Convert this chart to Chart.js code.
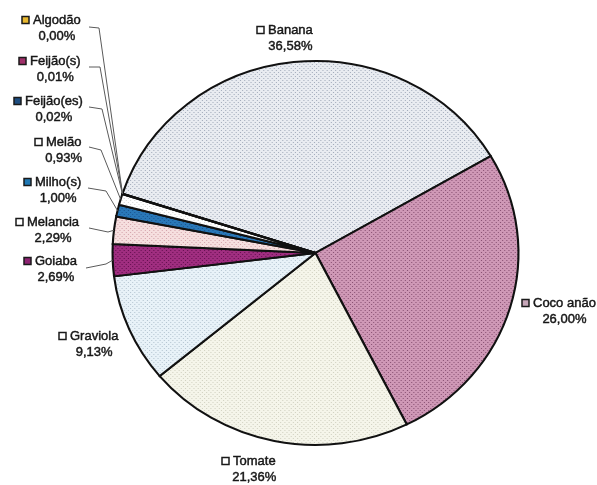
<!DOCTYPE html>
<html>
<head>
<meta charset="utf-8">
<script src="https://cdn.jsdelivr.net/npm/chart.js@4.4.1/dist/chart.umd.min.js"></script>
<style>
  html, body { margin: 0; padding: 0; background: #ffffff; }
  #wrap { width: 597px; height: 485px; }
</style>
</head>
<body>
<div id="wrap"><canvas id="c" width="597" height="485"></canvas></div>
<script>
// Crops and their share of the total (%), clockwise from Banana
const categories = ['Banana', 'Coco anão', 'Tomate', 'Graviola', 'Goiaba', 'Melancia',
                    'Milho(s)', 'Melão', 'Feijão(es)', 'Feijão(s)', 'Algodão'];
const shares = [36.58, 26.00, 21.36, 9.13, 2.69, 2.29, 1.00, 0.93, 0.02, 0.01, 0.00];

// Slice fills: base colour + halftone dot colour
const sliceBase = ['#e9ecf1', '#cf98b6', '#f5f5ea', '#e8f2f8', '#a02e80', '#f6dfdf',
                   '#2a78b8', '#ffffff', '#1d4d80', '#a0306a', '#e8b830'];
const sliceDots = ['#a4acbc', '#8a5274', '#d2d2c2', '#b6c6d2', '#661050', '#d4a4ac',
                   '#1a5590', '#d8d8d8', '#15355a', '#6a1a44', '#b88a10'];
// Key squares beside each label
const keyColors = ['#ffffff', '#c6a6b8', '#ffffff', '#ffffff', '#8d2272', '#ffffff',
                   '#1f78b4', '#ffffff', '#1d4d80', '#a0306a', '#e8b830'];

// Label placement: key square left edge, first line centre y, optional leader (start, elbow)
const labelLayout = [
  { x: 257, y: 30 },
  { x: 522, y: 303 },
  { x: 222, y: 461 },
  { x: 59,  y: 336 },
  { x: 24,  y: 261, lead: [86, 268, 106, 264] },
  { x: 16,  y: 222, lead: [89, 228, 108, 232] },
  { x: 24,  y: 182, lead: [88, 188, 106, 191] },
  { x: 35,  y: 142, lead: [89, 147, 101, 150] },
  { x: 14,  y: 101, lead: [89, 107, 102, 109] },
  { x: 19,  y: 61,  lead: [89, 67, 100, 67] },
  { x: 22,  y: 20,  lead: [89, 27, 99, 28] }
];

const SX = 1.057;   // horizontal stretch of the pie (drawn slightly elliptical)
const FONT = '13px "Liberation Sans", Arial, sans-serif';

function fmt(v) { return v.toFixed(2).replace('.', ',') + '%'; }

function halftone(base, dot) {
  const t = document.createElement('canvas');
  t.width = 4; t.height = 4;
  const g = t.getContext('2d');
  g.fillStyle = base; g.fillRect(0, 0, 4, 4);
  g.fillStyle = dot;
  g.fillRect(0, 0, 1, 1);
  g.fillRect(2, 2, 1, 1);
  return g.createPattern(t, 'repeat');
}

const fills = sliceBase.map((b, i) => halftone(b, sliceDots[i]));

const stretchPie = {
  id: 'stretchPie',
  beforeDatasetsDraw(chart) {
    const arc = chart.getDatasetMeta(0).data[0];
    const ctx = chart.ctx;
    ctx.save();
    ctx.translate(arc.x, 0);
    ctx.scale(SX, 1);
    ctx.translate(-arc.x, 0);
  },
  afterDatasetsDraw(chart) {
    chart.ctx.restore();
  }
};

function heavyText(ctx, s, x, y) {
  ctx.strokeText(s, x, y);
  ctx.fillText(s, x, y);
}

const sliceLabels = {
  id: 'sliceLabels',
  afterDraw(chart) {
    const ctx = chart.ctx;
    const arcs = chart.getDatasetMeta(0).data;
    ctx.save();
    ctx.font = FONT;
    ctx.textBaseline = 'middle';
    categories.forEach((name, i) => {
      const L = labelLayout[i];
      const arc = arcs[i];
      // leader line to the slice edge
      if (L.lead) {
        const mid = (arc.startAngle + arc.endAngle) / 2;
        const r = arc.outerRadius;
        const px = arc.x + SX * r * Math.cos(mid);
        const py = arc.y + r * Math.sin(mid);
        ctx.strokeStyle = '#5a5a5a';
        ctx.lineWidth = 1;
        ctx.beginPath();
        ctx.moveTo(L.lead[0], L.lead[1]);
        ctx.lineTo(L.lead[2], L.lead[3]);
        ctx.lineTo(px, py);
        ctx.stroke();
      }
      // key square
      ctx.fillStyle = keyColors[i];
      ctx.fillRect(L.x, L.y - 3.5, 7, 7);
      ctx.strokeStyle = '#1a1a1a';
      ctx.lineWidth = 1.5;
      ctx.strokeRect(L.x, L.y - 3.5, 7, 7);
      // name and percentage
      ctx.fillStyle = '#161616';
      ctx.strokeStyle = '#161616';
      ctx.lineWidth = 0.45;
      ctx.textAlign = 'left';
      const tx = L.x + 11;
      heavyText(ctx, name, tx, L.y);
      const w = ctx.measureText(name).width;
      ctx.textAlign = 'center';
      heavyText(ctx, fmt(shares[i]), tx + w / 2, L.y + 16);
    });
    ctx.restore();
  }
};

new Chart(document.getElementById('c'), {
  type: 'pie',
  data: {
    labels: categories,
    datasets: [{
      data: shares,
      backgroundColor: fills,
      borderColor: '#111111',
      borderWidth: 2,
      borderJoinStyle: 'miter'
    }]
  },
  options: {
    responsive: false,
    animation: false,
    rotation: -72,
    layout: { padding: { top: 60, bottom: 39, left: 122.5, right: 88.5 } },
    plugins: {
      legend: { display: false },
      tooltip: { enabled: false }
    }
  },
  plugins: [stretchPie, sliceLabels]
});
</script>
</body>
</html>
